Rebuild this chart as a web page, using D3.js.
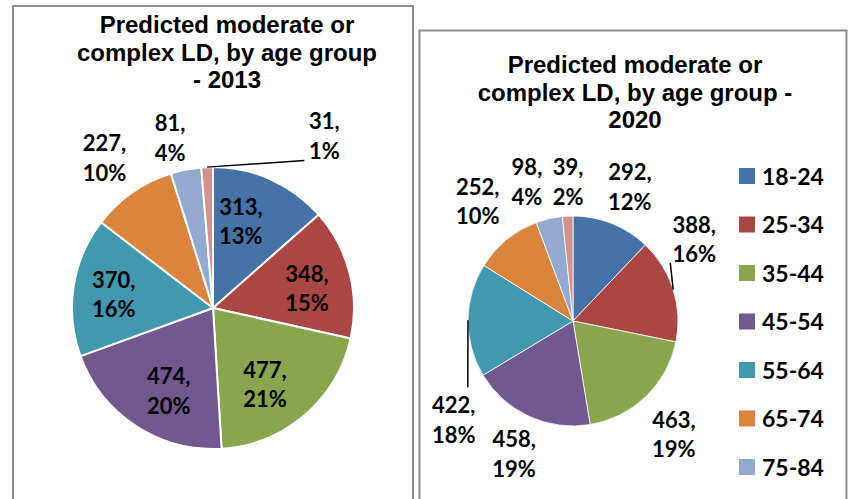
<!DOCTYPE html>
<html>
<head>
<meta charset="utf-8">
<script src="https://cdn.jsdelivr.net/npm/d3@7"></script>
<style>
  body { margin: 0; background: #fff; }
  svg { display: block; }
</style>
</head>
<body>
<div id="chart"></div>
<script>
// data
var categories = ["18-24", "25-34", "35-44", "45-54", "55-64", "65-74", "75-84", "85+"];
var values2013 = [313, 348, 477, 474, 370, 227, 81, 31];
var pct2013 = [13, 15, 21, 20, 16, 10, 4, 1];
var values2020 = [292, 388, 463, 458, 422, 252, 98, 39];
var pct2020 = [12, 16, 19, 19, 18, 10, 4, 2];
var title2013 = ["Predicted moderate or", "complex LD, by age group", "- 2013"];
var title2020 = ["Predicted moderate or", "complex LD, by age group -", "2020"];
var colors = ["#4572A7", "#AA4643", "#89A54E", "#71588F", "#4198AF", "#DB843D", "#93A9CF", "#D19392"];

// label placement: angle (deg, clockwise from 12 o'clock), distance as fraction of radius, optional leader end offset
var labels2013 = [
  { a: 18, d: 0.64 }, { a: 78.6, d: 0.68 }, { a: 146, d: 0.66 }, { a: 208, d: 0.67 },
  { a: 277.5, d: 0.71 }, { a: 324, d: 1.31 }, { a: 345.8, d: 1.24 }, { a: 33, d: 1.45, leader: [-20, 24] }
];
var labels2020 = [
  { a: 23.1, d: 1.38 }, { a: 56.2, d: 1.39, leader: [-24, 23] }, { a: 138.5, d: 1.45 }, { a: 203.8, d: 1.39 },
  { a: 230.1, d: 1.48, leader: [14, -33.5] }, { a: 321.3, d: 1.45 }, { a: 341.6, d: 1.39 }, { a: 358, d: 1.32 }
];

var width = 850, height = 499;
var svg = d3.select("#chart").append("svg")
  .attr("width", width)
  .attr("height", height);

var color = d3.scaleOrdinal().domain(categories).range(colors);

// panel frames
svg.append("rect").attr("x", 13).attr("y", 6).attr("width", 400).attr("height", 520)
  .attr("fill", "none").attr("stroke", "#8e8e8e").attr("stroke-width", 2);
svg.append("rect").attr("x", 419.5).attr("y", 30.5).attr("width", 427).attr("height", 520)
  .attr("fill", "none").attr("stroke", "#8e8e8e").attr("stroke-width", 2);

function drawPie(opts) {
  var g = svg.append("g").attr("transform", "translate(" + opts.cx + "," + opts.cy + ")");
  var pie = d3.pie().sort(null).value(function (d) { return d; });
  var arcs = pie(opts.values);
  var arc = d3.arc().innerRadius(0).outerRadius(opts.r);

  g.selectAll("path.slice").data(arcs).enter().append("path")
    .attr("class", "slice")
    .attr("d", arc)
    .attr("fill", function (d, i) { return color(categories[i]); })
    .attr("stroke", "#fff")
    .attr("stroke-width", opts.strokeW)
    .attr("stroke-linejoin", "round");

  // title
  svg.append("text")
    .attr("x", opts.titleX).attr("y", opts.titleY)
    .attr("text-anchor", "middle")
    .style("font-family", "'Liberation Sans', Arial, sans-serif")
    .style("font-weight", "bold")
    .style("font-size", "24px")
    .selectAll("tspan").data(opts.title).enter().append("tspan")
    .attr("x", opts.titleX)
    .attr("dy", function (d, i) { return i === 0 ? 0 : 27.6; })
    .text(function (d) { return d; });

  // data labels
  arcs.forEach(function (d, i) {
    var spec = opts.labels[i];
    var rad = spec.a * Math.PI / 180;
    var lx = Math.sin(rad) * spec.d * opts.r;
    var ly = -Math.cos(rad) * spec.d * opts.r;
    if (spec.leader) {
      var mid = (d.startAngle + d.endAngle) / 2;
      g.append("line")
        .attr("x1", Math.sin(mid) * opts.r).attr("y1", -Math.cos(mid) * opts.r)
        .attr("x2", lx + spec.leader[0]).attr("y2", ly + spec.leader[1])
        .attr("stroke", "#000").attr("stroke-width", 1.5);
    }
    var t = g.append("text")
      .attr("x", lx).attr("y", ly - 7.25)
      .attr("text-anchor", "middle")
      .style("font-family", "Lato, 'Open Sans', sans-serif")
      .style("font-weight", "bold")
      .style("font-size", "22px")
      .attr("fill", "#000");
    t.append("tspan").attr("x", lx).text(d.data + ",");
    t.append("tspan").attr("x", lx).attr("dy", 29.5).text(opts.pct[i] + "%");
  });
}

drawPie({ cx: 213, cy: 308, r: 141, values: values2013, pct: pct2013, labels: labels2013,
  strokeW: 2, title: title2013, titleX: 227, titleY: 33 });
drawPie({ cx: 573, cy: 321, r: 105, values: values2020, pct: pct2020, labels: labels2020,
  strokeW: 0.8, title: title2020, titleX: 635, titleY: 73 });

// legend (the last entry falls below the visible area, as in the original)
var rowY = function (i) { return 176 + i * 48.5; };
var legend = svg.append("g").attr("class", "legend");
var rows = legend.selectAll("g")
  .data(categories.filter(function (d, i) { return rowY(i) + 10 < height; }))
  .enter().append("g")
  .attr("transform", function (d, i) { return "translate(739," + rowY(i) + ")"; });
rows.append("rect").attr("x", 0).attr("y", -8).attr("width", 16).attr("height", 16)
  .attr("fill", function (d) { return color(d); });
rows.append("text").attr("x", 23).attr("y", 8.5)
  .style("font-family", "Lato, 'Open Sans', sans-serif")
  .style("font-weight", "bold")
  .style("font-size", "23px")
  .text(function (d) { return d; });
</script>
</body>
</html>
